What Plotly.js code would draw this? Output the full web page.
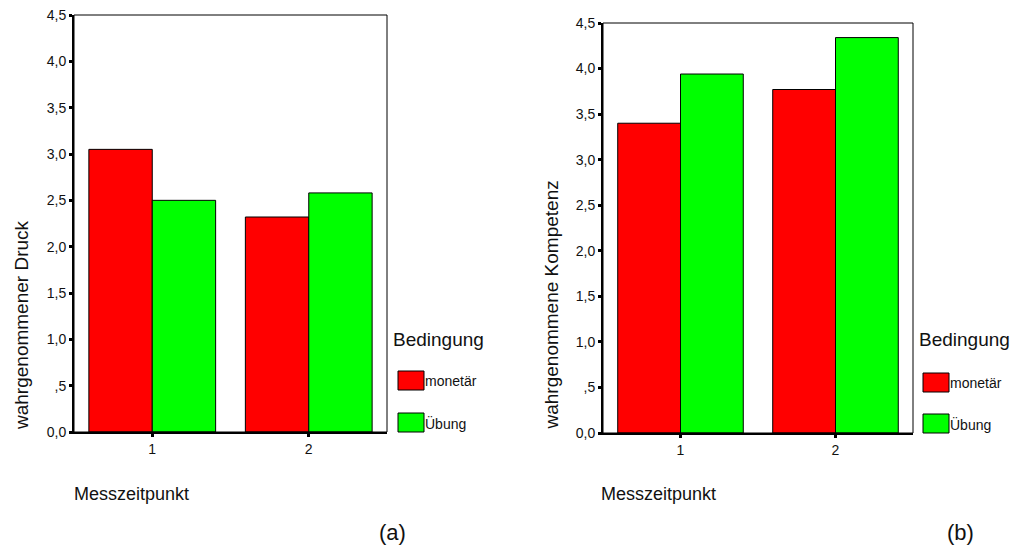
<!DOCTYPE html>
<html>
<head>
<meta charset="utf-8">
<script src="https://cdn.plot.ly/plotly-3.0.1.min.js"></script>
<style>html,body{margin:0;padding:0;background:#fff;}#chart{width:1010px;height:551px;}</style>
</head>
<body>
<div id="chart"></div>
<script>
// ---- data ----
var categories = ["1", "2"];
var seriesNames = ["monetär", "Übung"];
var druckMonetaer = [3.05, 2.32];
var druckUebung = [2.50, 2.58];
var kompetenzMonetaer = [3.40, 3.77];
var kompetenzUebung = [3.94, 4.34];
var yTickVals = [0, 0.5, 1, 1.5, 2, 2.5, 3, 3.5, 4, 4.5];
var yTickText = ["0,0", ",5", "1,0", "1,5", "2,0", "2,5", "3,0", "3,5", "4,0", "4,5"];
var yTitleA = "wahrgenommener Druck";
var yTitleB = "wahrgenommene Kompetenz";
var xTitle = "Messzeitpunkt";
var legendTitle = "Bedingung";
var panelLabels = ["(a)", "(b)"];

var colors = ["#ff0000", "#00ff00"];
var FONT = "Liberation Sans, Arial, Helvetica, sans-serif";
var W = 1010, H = 551;
function px(x) { return x / W; }
function py(y) { return 1 - y / H; }

function barTrace(vals, i, xa, ya) {
  return {
    type: "bar", x: categories, y: vals, name: seriesNames[i],
    xaxis: xa, yaxis: ya, showlegend: false,
    marker: { color: colors[i], line: { color: "#000", width: 1 } },
    hoverinfo: "y"
  };
}

var data = [
  barTrace(druckMonetaer, 0, "x", "y"),
  barTrace(druckUebung, 1, "x", "y"),
  barTrace(kompetenzMonetaer, 0, "x2", "y2"),
  barTrace(kompetenzUebung, 1, "x2", "y2")
];

function xAxis(domain, anchor) {
  return {
    domain: domain, anchor: anchor, type: "category", range: [-0.5, 1.5],
    showline: true, linecolor: "#000", linewidth: 2, mirror: false,
    ticks: "outside", ticklen: 3, tickwidth: 3, tickcolor: "#000",
    showgrid: false, zeroline: false, fixedrange: true,
    tickfont: { family: FONT, size: 14, color: "#111" }
  };
}
function yAxis(domain, anchor) {
  return {
    domain: domain, anchor: anchor, range: [0, 4.5],
    tickvals: yTickVals, ticktext: yTickText,
    showline: true, linecolor: "#000", linewidth: 2, mirror: false,
    ticks: "outside", ticklen: 3, tickwidth: 3, tickcolor: "#000",
    showgrid: false, zeroline: false, fixedrange: true,
    tickfont: { family: FONT, size: 14, color: "#111" }
  };
}

var shapes = [
  { type: "rect", xref: "x domain", yref: "y domain", x0: 0, x1: 1, y0: 0, y1: 1, line: { color: "#000", width: 1 }, layer: "above" },
  { type: "rect", xref: "x2 domain", yref: "y2 domain", x0: 0, x1: 1, y0: 0, y1: 1, line: { color: "#000", width: 1 }, layer: "above" }
];
var annotations = [];

function legendAt(titleX, boxX, text_X, boxYs) {
  annotations.push({ xref: "paper", yref: "paper", x: px(titleX), y: py(339), xanchor: "left", yanchor: "middle",
    text: legendTitle, showarrow: false, font: { family: FONT, size: 19, color: "#111" } });
  for (var i = 0; i < seriesNames.length; i++) {
    shapes.push({ type: "rect", xref: "paper", yref: "paper", x0: px(boxX), x1: px(boxX + 26),
      y0: py(boxYs[i] + 19), y1: py(boxYs[i]), fillcolor: colors[i], line: { color: "#000", width: 1 } });
    annotations.push({ xref: "paper", yref: "paper", x: px(text_X), y: py(boxYs[i] + 10), xanchor: "left", yanchor: "middle",
      text: seriesNames[i], showarrow: false, font: { family: FONT, size: 14, color: "#111" } });
  }
}
legendAt(391, 398, 423, [371, 413]);
legendAt(917, 923, 948, [373, 414]);

function yTitle(text, cx) {
  annotations.push({ xref: "paper", yref: "paper", x: px(cx), y: py(432), xanchor: "center", yanchor: "bottom",
    textangle: -90, text: text, showarrow: false, font: { family: FONT, size: 19, color: "#111" } });
}
yTitle(yTitleA, 21);
yTitle(yTitleB, 551);

annotations.push({ xref: "paper", yref: "paper", x: px(72), y: py(494), xanchor: "left", yanchor: "middle",
  text: xTitle, showarrow: false, font: { family: FONT, size: 18, color: "#111" } });
annotations.push({ xref: "paper", yref: "paper", x: px(599), y: py(494), xanchor: "left", yanchor: "middle",
  text: xTitle, showarrow: false, font: { family: FONT, size: 18, color: "#111" } });
annotations.push({ xref: "paper", yref: "paper", x: px(392), y: py(532), xanchor: "center", yanchor: "middle",
  text: panelLabels[0], showarrow: false, font: { family: FONT, size: 22, color: "#111" } });
annotations.push({ xref: "paper", yref: "paper", x: px(960), y: py(532), xanchor: "center", yanchor: "middle",
  text: panelLabels[1], showarrow: false, font: { family: FONT, size: 22, color: "#111" } });

var layout = {
  width: W, height: H,
  margin: { l: 0, r: 0, t: 0, b: 0 },
  paper_bgcolor: "#fff", plot_bgcolor: "#fff",
  barmode: "group", bargap: 0.19, bargroupgap: 0,
  showlegend: false,
  font: { family: FONT, color: "#111" },
  xaxis: xAxis([px(74), px(387)], "y"),
  yaxis: yAxis([py(432), py(15)], "x"),
  xaxis2: xAxis([px(603), px(913)], "y2"),
  yaxis2: yAxis([py(433), py(23)], "x2"),
  shapes: shapes,
  annotations: annotations
};

Plotly.newPlot("chart", data, layout, { displayModeBar: false, staticPlot: true });
</script>
</body>
</html>
